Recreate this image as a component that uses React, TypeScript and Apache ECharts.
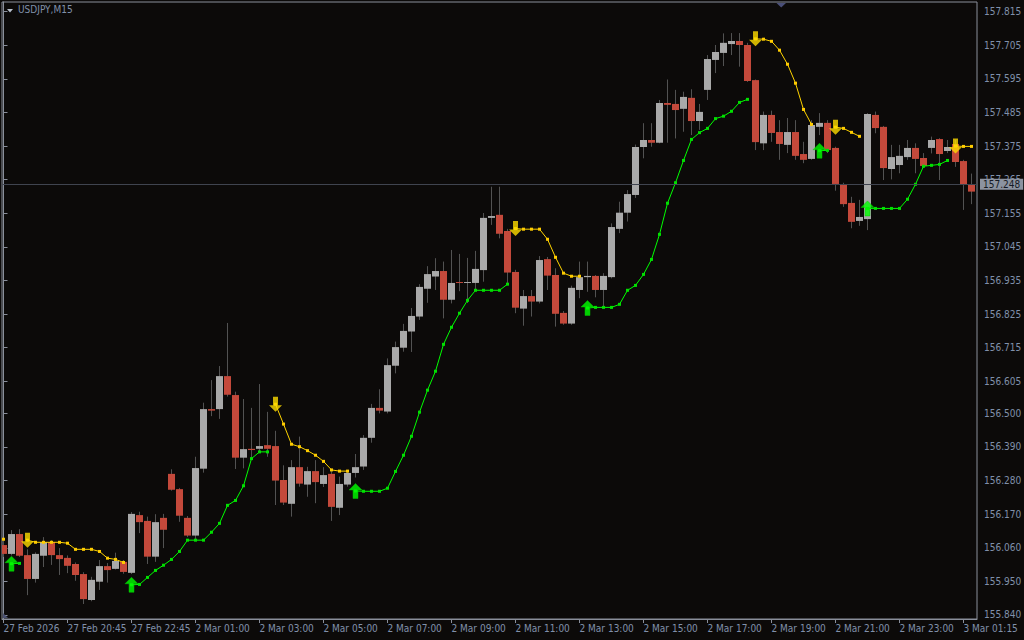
import React, { useEffect, useRef } from "react";
import * as echarts from "echarts";

const open = [156.069,156.040,156.105,156.036,155.958,156.034,156.079,156.036,156.027,156.007,155.974,155.889,155.949,156.000,155.991,156.014,155.978,156.167,156.148,156.031,156.158,156.302,156.252,156.158,156.100,156.319,156.514,156.514,156.622,156.560,156.355,156.384,156.384,156.396,156.393,156.282,156.204,156.324,156.267,156.311,156.269,156.302,156.191,156.267,156.305,156.326,156.420,156.518,156.506,156.656,156.715,156.768,156.817,156.908,156.948,156.966,156.872,156.930,156.927,156.927,156.969,157.140,157.150,157.097,156.963,156.843,156.884,156.866,157.005,156.953,156.829,156.794,156.904,156.946,156.950,156.904,156.946,157.104,157.157,157.215,157.372,157.395,157.386,157.516,157.513,157.497,157.533,157.457,157.559,157.657,157.680,157.709,157.719,157.706,157.591,157.384,157.477,157.421,157.379,157.421,157.349,157.333,157.438,157.451,157.369,157.251,157.189,157.130,157.136,157.477,157.438,157.300,157.313,157.339,157.369,157.336,157.369,157.398,157.359,157.382,157.326,157.248];
const close = [156.040,156.105,156.034,155.958,156.040,156.079,156.036,156.023,156.001,155.971,155.892,155.955,156.000,155.987,156.017,155.981,156.171,156.144,156.031,156.144,156.119,156.250,156.165,156.100,156.321,156.514,156.509,156.622,156.561,156.355,156.383,156.380,156.393,156.384,156.280,156.208,156.324,156.270,156.311,156.275,156.298,156.194,156.269,156.305,156.324,156.420,156.518,156.509,156.658,156.717,156.770,156.819,156.914,156.956,156.966,156.872,156.927,156.927,156.930,156.973,157.140,157.146,157.088,156.961,156.846,156.884,156.866,157.002,156.951,156.826,156.794,156.911,156.946,156.950,156.904,156.950,157.110,157.157,157.218,157.372,157.395,157.386,157.516,157.510,157.493,157.536,157.457,157.487,157.660,157.683,157.713,157.719,157.706,157.588,157.388,157.477,157.418,157.382,157.421,157.343,157.330,157.444,157.451,157.362,157.251,157.185,157.127,157.143,157.480,157.434,157.303,157.339,157.343,157.369,157.333,157.310,157.395,157.349,157.372,157.323,157.248,157.226];
const high = [156.085,156.118,156.121,156.055,156.045,156.095,156.085,156.059,156.035,156.012,155.980,155.965,156.020,156.010,156.044,156.020,156.177,156.178,156.162,156.170,156.171,156.317,156.256,156.164,156.358,156.535,156.609,156.655,156.796,156.571,156.547,156.518,156.596,156.505,156.443,156.330,156.347,156.424,156.325,156.347,156.324,156.315,156.293,156.315,156.367,156.429,156.531,156.579,156.680,156.735,156.793,156.845,156.923,156.982,157.008,156.997,157.035,157.022,157.009,157.032,157.156,157.242,157.242,157.104,156.970,156.904,156.904,157.015,157.012,156.975,156.835,156.918,156.997,156.997,156.953,156.959,157.122,157.193,157.231,157.380,157.450,157.450,157.526,157.593,157.559,157.553,157.561,157.513,157.673,157.706,157.744,157.745,157.745,157.713,157.593,157.488,157.491,157.460,157.467,157.460,157.389,157.460,157.483,157.460,157.373,157.255,157.209,157.199,157.483,157.488,157.441,157.379,157.379,157.395,157.384,157.352,157.406,157.401,157.395,157.395,157.330,157.285];
const low = [156.030,156.035,156.030,155.905,155.946,155.997,156.004,155.971,155.977,155.952,155.876,155.885,155.922,155.946,155.989,155.975,155.974,156.108,156.007,156.014,156.059,156.247,156.145,156.095,156.086,156.306,156.491,156.482,156.555,156.318,156.320,156.347,156.375,156.358,156.200,156.200,156.162,156.260,156.227,156.206,156.259,156.148,156.167,156.260,156.290,156.315,156.404,156.500,156.500,156.631,156.702,156.701,156.806,156.862,156.904,156.811,156.860,156.900,156.861,156.904,156.931,157.117,157.073,156.926,156.828,156.787,156.817,156.860,156.904,156.784,156.790,156.790,156.877,156.898,156.880,156.849,156.942,157.090,157.128,157.205,157.335,157.373,157.384,157.386,157.400,157.422,157.411,157.428,157.526,157.614,157.637,157.673,157.635,157.585,157.362,157.362,157.389,157.330,157.352,157.330,157.319,157.330,157.411,157.352,157.229,157.176,157.106,157.114,157.100,157.417,157.264,157.266,157.286,157.330,157.286,157.303,157.351,157.264,157.352,157.307,157.166,157.185];

const _ = null;
// Up-trend (green) indicator line, one value per bar, null where inactive
const greenLine = [
  _,156.008,156.009,_,_,_,_,_,_,_,
  _,_,_,_,_,_,155.939,155.940,155.963,155.986,
  156.003,156.022,156.048,156.085,156.085,156.085,156.111,156.140,156.199,156.215,
  156.263,156.352,156.374,156.374,_,_,_,_,_,_,
  _,_,_,_,156.246,156.245,156.245,156.245,156.255,156.310,
  156.363,156.425,156.504,156.576,156.638,156.726,156.782,156.828,156.870,156.903,
  156.903,156.903,156.903,156.923,_,_,_,_,_,_,
  _,_,_,156.845,156.847,156.847,156.847,156.857,156.903,156.919,
  156.955,157.004,157.086,157.188,157.255,157.328,157.397,157.419,157.433,157.465,
  157.473,157.489,157.518,157.528,_,_,_,_,_,_,
  _,_,157.360,157.361,_,_,_,_,157.171,157.171,
  157.171,157.171,157.171,157.201,157.250,157.309,157.312,157.315,157.328,_,
  _,_,
];
// Down-trend (yellow) indicator line
const yellowLine = [
  156.088,_,_,156.085,156.078,156.078,156.078,156.078,156.075,156.055,
  156.055,156.055,156.048,156.026,156.022,156.012,_,_,_,_,
  _,_,_,_,_,_,_,_,_,_,
  _,_,_,_,156.530,156.465,156.399,156.391,156.378,156.363,
  156.343,156.315,156.311,156.311,_,_,_,_,_,_,
  _,_,_,_,_,_,_,_,_,_,
  _,_,_,_,157.105,157.103,157.103,157.103,157.070,157.011,
  156.959,156.949,156.949,_,_,_,_,_,_,_,
  _,_,_,_,_,_,_,_,_,_,
  _,_,_,_,157.726,157.725,157.718,157.689,157.643,157.581,
  157.495,157.446,_,_,157.437,157.433,157.420,157.407,_,_,
  _,_,_,_,_,_,_,_,_,157.375,
  157.374,157.374,
];
const upArrowBars = [1, 16, 44, 73, 102, 108];
const downArrowBars = [3, 34, 64, 94, 104, 119];

const xTickBars = [0, 8, 16, 24, 32, 40, 48, 56, 64, 72, 80, 88, 96, 104, 112, 120];
const xTickLabels = ["27 Feb 2026", "27 Feb 20:45", "27 Feb 22:45", "2 Mar 01:00", "2 Mar 03:00", "2 Mar 05:00", "2 Mar 07:00", "2 Mar 09:00", "2 Mar 11:00", "2 Mar 13:00", "2 Mar 15:00", "2 Mar 17:00", "2 Mar 19:00", "2 Mar 21:00", "2 Mar 23:00", "3 Mar 01:15"];
const yTicks = [155.840, 155.950, 156.060, 156.170, 156.280, 156.390, 156.500, 156.605, 156.715, 156.825, 156.935, 157.045, 157.155, 157.265, 157.375, 157.485, 157.595, 157.705, 157.815];
const bidPrice = 157.248;
const symbolTitle = "USDJPY,M15";

const BG = "#0c0a09";
const FRAME = "#8a8f9b";
const TXT = "#8090aa";
const BULL = "#a9a9a9";
const BEAR = "#c4493b";
const WICK = "#525252";
const FONT = "'DejaVu Sans Condensed', 'Liberation Sans', sans-serif";
const FS = 10;

const UP_ARROW = "path://M6.5,0 L13,6.5 L9,6.5 L9,15 L4,15 L4,6.5 L0,6.5 Z";
const DOWN_ARROW = "path://M4,0 L9,0 L9,8.5 L13,8.5 L6.5,15 L0,8.5 L4,8.5 Z";

export default function App() {
  const ref = useRef<HTMLDivElement>(null);
  useEffect(() => {
    if (!ref.current) return;
    const chart = echarts.init(ref.current, null, { renderer: "svg" });
    const candles = open.map((o, i) => [i, o, close[i], low[i], high[i]]);
    const green = greenLine.map((v, i) => [i, v]);
    const yellow = yellowLine.map((v, i) => [i, v]);
    const upArrows = upArrowBars.map((i) => [i, greenLine[i]]);
    const downArrows = downArrowBars.map((i) => [i, yellowLine[i]]);

    chart.setOption({
      animation: false,
      backgroundColor: BG,
      textStyle: { fontFamily: FONT },
      title: {
        text: symbolTitle,
        left: 18,
        top: 4,
        padding: 0,
        textStyle: { color: TXT, fontSize: FS, fontWeight: "normal", fontFamily: FONT },
      },
      grid: {
        left: 2,
        right: 47,
        top: 2,
        bottom: 21,
        show: true,
        borderColor: FRAME,
        borderWidth: 1,
        backgroundColor: "transparent",
        containLabel: false,
        outerBoundsMode: "none",
      },
      xAxis: {
        type: "value",
        min: -0.1875,
        max: 121.6875,
        axisLine: { show: true, lineStyle: { color: FRAME, width: 1 } },
        axisTick: { show: true, length: 4, customValues: xTickBars, lineStyle: { color: FRAME } },
        splitLine: { show: false },
        axisLabel: {
          customValues: xTickBars,
          formatter: (v: number) => xTickLabels[xTickBars.indexOf(Math.round(v))] ?? "",
          align: "left",
          color: TXT,
          fontSize: FS,
          margin: 4,
          fontFamily: FONT,
        },
      },
      yAxis: {
        type: "value",
        position: "right",
        min: 155.8269,
        max: 157.8467,
        scale: true,
        axisLine: { show: true, lineStyle: { color: FRAME, width: 1 } },
        axisTick: { show: true, length: 4, customValues: yTicks, lineStyle: { color: FRAME } },
        splitLine: { show: false },
        axisLabel: {
          customValues: yTicks,
          formatter: (v: number) => v.toFixed(3),
          color: TXT,
          fontSize: FS,
          margin: 7,
          fontFamily: FONT,
        },
      },
      graphic: [
        { type: "polygon", z: 100, shape: { points: [[7, 9], [13, 9], [10, 12.5]] }, style: { fill: "#b9c1cd" } },
        { type: "polygon", z: 100, shape: { points: [[776.5, 3], [786, 3], [781.2, 7.5]] }, style: { fill: "#4a4f78" } },
        { type: "polygon", z: 100, shape: { points: [[3, 613], [3, 618], [8, 618]] }, style: { fill: "#4a5070" } },
      ],
      series: [
        {
          type: "line",
          z: 1,
          data: [],
          silent: true,
          markLine: {
            silent: true,
            symbol: "none",
            lineStyle: { color: "#40444f", width: 1, type: "solid" },
            label: {
              show: true,
              position: "end",
              formatter: bidPrice.toFixed(3),
              backgroundColor: "#8c93a0",
              color: "#161a24",
              fontSize: FS,
              fontFamily: FONT,
              padding: [1, 3, 0, 3],
              distance: 3,
            },
            data: [{ yAxis: bidPrice }],
          },
        },
        {
          type: "custom",
          z: 2,
          clip: true,
          data: candles,
          encode: { x: 0, y: [1, 2, 3, 4] },
          renderItem: (params: any, api: any) => {
            const i = api.value(0);
            const o = api.value(1);
            const c = api.value(2);
            const l = api.value(3);
            const h = api.value(4);
            const pO = api.coord([i, o]);
            const pC = api.coord([i, c]);
            const pL = api.coord([i, l]);
            const pH = api.coord([i, h]);
            const cx = pO[0];
            const top = Math.min(pO[1], pC[1]);
            const height = Math.max(1, Math.abs(pO[1] - pC[1]));
            const bull = c >= o;
            return {
              type: "group",
              children: [
                {
                  type: "line",
                  shape: { x1: cx, y1: pH[1], x2: cx, y2: pL[1] },
                  style: { stroke: WICK, lineWidth: 1 },
                },
                {
                  type: "rect",
                  shape: { x: cx - 3.5, y: top, width: 7, height },
                  style: { fill: bull ? BULL : BEAR },
                },
              ],
            };
          },
        },
        {
          type: "line",
          z: 3,
          data: yellow,
          connectNulls: false,
          symbol: "rect",
          symbolSize: 3,
          showSymbol: true,
          lineStyle: { color: "#ffd400", width: 1 },
          itemStyle: { color: "#ffcc00" },
        },
        {
          type: "line",
          z: 3,
          data: green,
          connectNulls: false,
          symbol: "rect",
          symbolSize: 3,
          showSymbol: true,
          lineStyle: { color: "#00ff00", width: 1 },
          itemStyle: { color: "#00e000" },
        },
        {
          type: "scatter",
          z: 4,
          data: upArrows,
          symbol: UP_ARROW,
          symbolSize: [13, 15],
          itemStyle: { color: "#00ff00", borderColor: "#00c800", borderWidth: 0.6 },
        },
        {
          type: "scatter",
          z: 4,
          data: downArrows,
          symbol: DOWN_ARROW,
          symbolSize: [13, 15],
          itemStyle: { color: "#ffdc00", borderWidth: 0 },
        },
      ],
    });
    return () => chart.dispose();
  }, []);
  return (
    <div
      ref={ref}
      style={{ position: "fixed", left: 0, top: 0, width: 1024, height: 640, background: BG }}
    />
  );
}
